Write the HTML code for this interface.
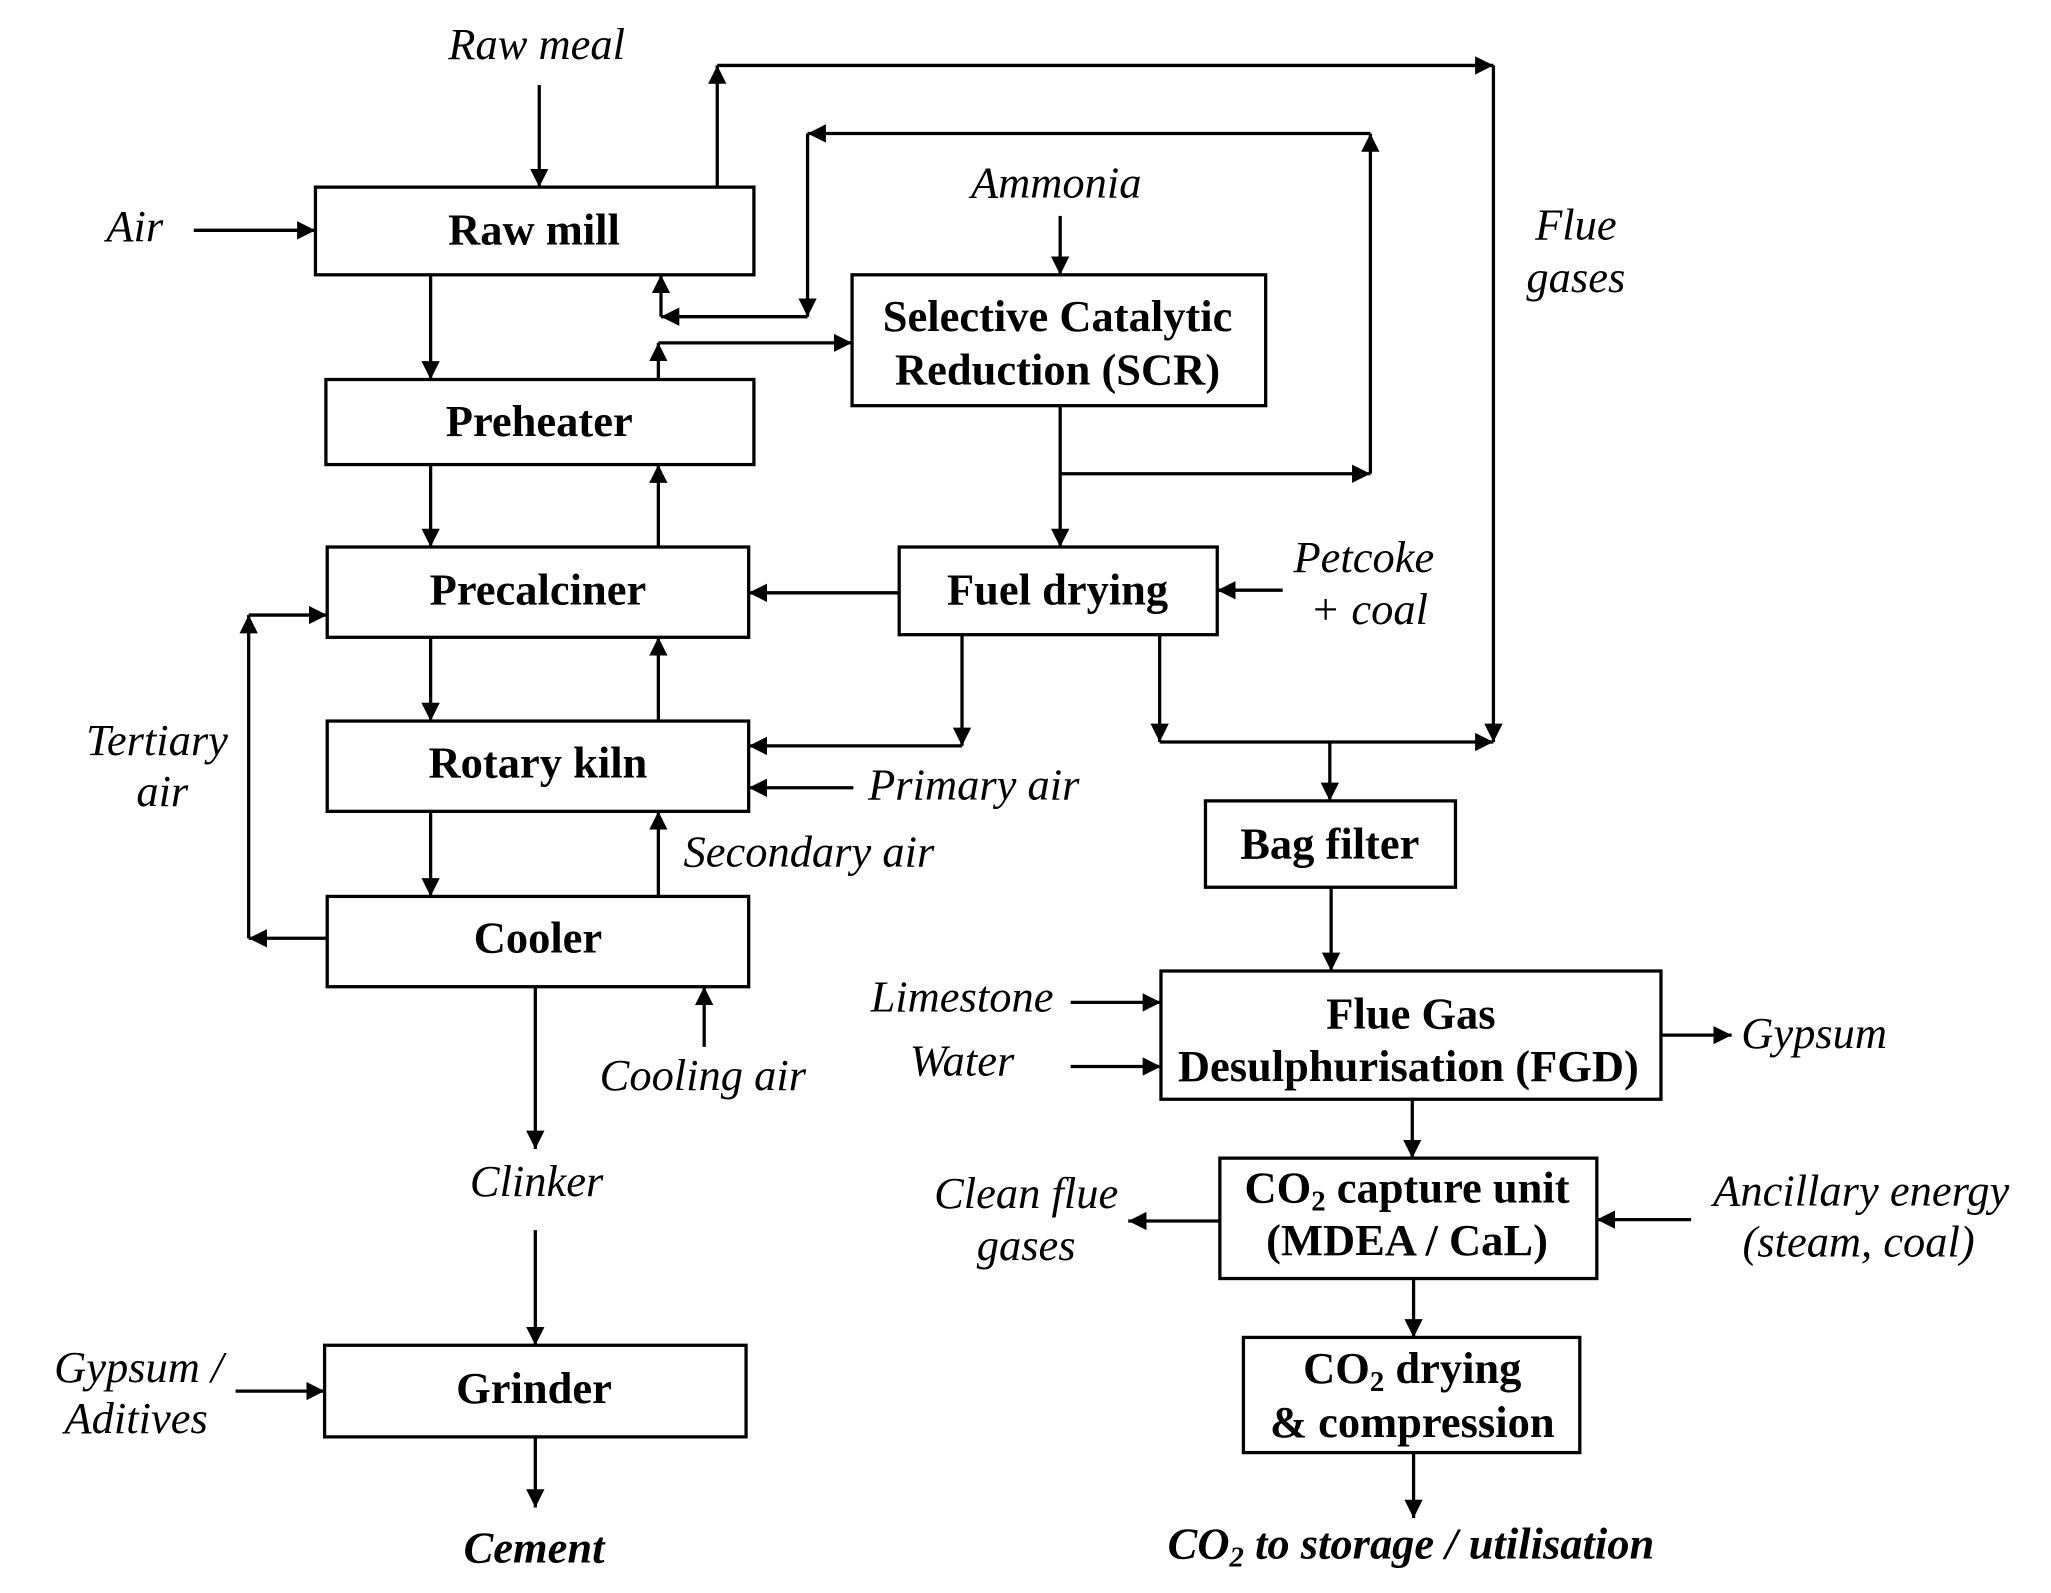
<!DOCTYPE html>
<html><head><meta charset="utf-8"><style>
html,body{margin:0;padding:0;background:#fff}
svg{display:block}
text{font-family:"Liberation Serif",serif;font-size:34px;fill:#000}
.b{font-weight:bold;text-anchor:middle}
.i{font-style:italic;text-anchor:middle}
.bi{font-style:italic;font-weight:bold;text-anchor:middle}
</style></head><body>
<svg width="2051" height="1593" viewBox="0 0 1567 1217.3" preserveAspectRatio="none" xmlns="http://www.w3.org/2000/svg">
<defs><marker id="a" viewBox="0 0 10 10" refX="10" refY="5" markerWidth="14" markerHeight="14" markerUnits="userSpaceOnUse" orient="auto"><path d="M0,0L10,5L0,10z" fill="#000"/></marker></defs>
<g fill="#fff" stroke="#000" stroke-width="2.5">
<rect x="241" y="143" width="335" height="67"/>
<rect x="249" y="290" width="327" height="65"/>
<rect x="250" y="418" width="322" height="69"/>
<rect x="250" y="551" width="322" height="69"/>
<rect x="250" y="685" width="322" height="69"/>
<rect x="248" y="1028" width="322" height="70"/>
<rect x="651" y="210" width="316" height="100"/>
<rect x="687" y="418" width="243" height="67"/>
<rect x="921" y="612" width="191" height="66"/>
<rect x="887" y="742" width="382" height="98"/>
<rect x="932" y="885" width="288" height="92"/>
<rect x="950" y="1022" width="257" height="88"/>
</g>
<g fill="none" stroke="#000" stroke-width="2.5" marker-end="url(#a)">
<path d="M412,65V143"/>
<path d="M148,176H241"/>
<path d="M548,143V50"/>
<path d="M548,50H1141"/>
<path d="M1141,50V567"/>
<path d="M886,485V567"/>
<path d="M886,567H1141"/>
<path d="M1016,567V612"/>
<path d="M810,310V418"/>
<path d="M810,362H1047"/>
<path d="M1047,362V102"/>
<path d="M1047,102H617"/>
<path d="M617,102V242"/>
<path d="M617,242H505"/>
<path d="M505,242V210"/>
<path d="M503,290V262"/>
<path d="M503,262H651"/>
<path d="M810,165V210"/>
<path d="M329,210V290"/>
<path d="M329,355V418"/>
<path d="M503,418V355"/>
<path d="M329,487V551"/>
<path d="M503,551V487"/>
<path d="M329,620V685"/>
<path d="M503,685V620"/>
<path d="M250,717H190"/>
<path d="M190,717V470"/>
<path d="M190,470H250"/>
<path d="M687,453H572"/>
<path d="M735,485V570"/>
<path d="M735,570H572"/>
<path d="M652,602H572"/>
<path d="M538,800V754"/>
<path d="M980,451H930"/>
<path d="M409,754V878"/>
<path d="M409,940V1028"/>
<path d="M180,1063H248"/>
<path d="M409,1098V1152"/>
<path d="M1017,678V742"/>
<path d="M818,766H887"/>
<path d="M818,815H887"/>
<path d="M1269,791H1323"/>
<path d="M1079,840V885"/>
<path d="M932,933H862"/>
<path d="M1292,932H1220"/>
<path d="M1080,977V1022"/>
<path d="M1080,1110V1160"/>
</g>
<text class="b" x="408" y="187">Raw mill</text>
<text class="b" x="412" y="333">Preheater</text>
<text class="b" x="411" y="462">Precalciner</text>
<text class="b" x="411" y="594">Rotary kiln</text>
<text class="b" x="411" y="728">Cooler</text>
<text class="b" x="408" y="1072">Grinder</text>
<text class="b" x="808" y="253">Selective Catalytic</text>
<text class="b" x="808" y="294">Reduction (SCR)</text>
<text class="b" x="808" y="462">Fuel drying</text>
<text class="b" x="1016" y="656">Bag filter</text>
<text class="b" x="1078" y="786">Flue Gas</text>
<text class="b" x="1076" y="826">Desulphurisation  (FGD)</text>
<text class="b" x="1075" y="919">CO<tspan font-size="22" dy="6">2</tspan><tspan dy="-6"> capture unit</tspan></text>
<text class="b" x="1075" y="959">(MDEA / CaL)</text>
<text class="b" x="1079" y="1057">CO<tspan font-size="22" dy="6">2</tspan><tspan dy="-6"> drying</tspan></text>
<text class="b" x="1079" y="1098">&amp; compression</text>
<text class="i" x="410" y="45">Raw meal</text>
<text class="i" x="103" y="184">Air</text>
<text class="i" x="807" y="151">Ammonia</text>
<text class="i" x="1204" y="183">Flue</text>
<text class="i" x="1204" y="223">gases</text>
<text class="i" x="1042" y="437">Petcoke</text>
<text class="i" x="1046" y="477">+ coal</text>
<text class="i" x="120" y="577">Tertiary</text>
<text class="i" x="124" y="616">air</text>
<text class="i" x="744" y="611">Primary air</text>
<text class="i" x="618" y="662">Secondary air</text>
<text class="i" x="537" y="833">Cooling air</text>
<text class="i" x="735" y="773">Limestone</text>
<text class="i" x="735" y="822">Water</text>
<text class="i" x="1386" y="801">Gypsum</text>
<text class="i" x="784" y="923">Clean flue</text>
<text class="i" x="784" y="963">gases</text>
<text class="i" x="1422" y="921">Ancillary energy</text>
<text class="i" x="1420" y="960">(steam, coal)</text>
<text class="i" x="410" y="914">Clinker</text>
<text class="i" x="106" y="1056">Gypsum /</text>
<text class="i" x="104" y="1095">Aditives</text>
<text class="bi" x="408" y="1194">Cement</text>
<text class="bi" x="1078" y="1191">CO<tspan font-size="22" dy="6">2</tspan><tspan dy="-6"> to storage / utilisation</tspan></text>
</svg>
</body></html>
